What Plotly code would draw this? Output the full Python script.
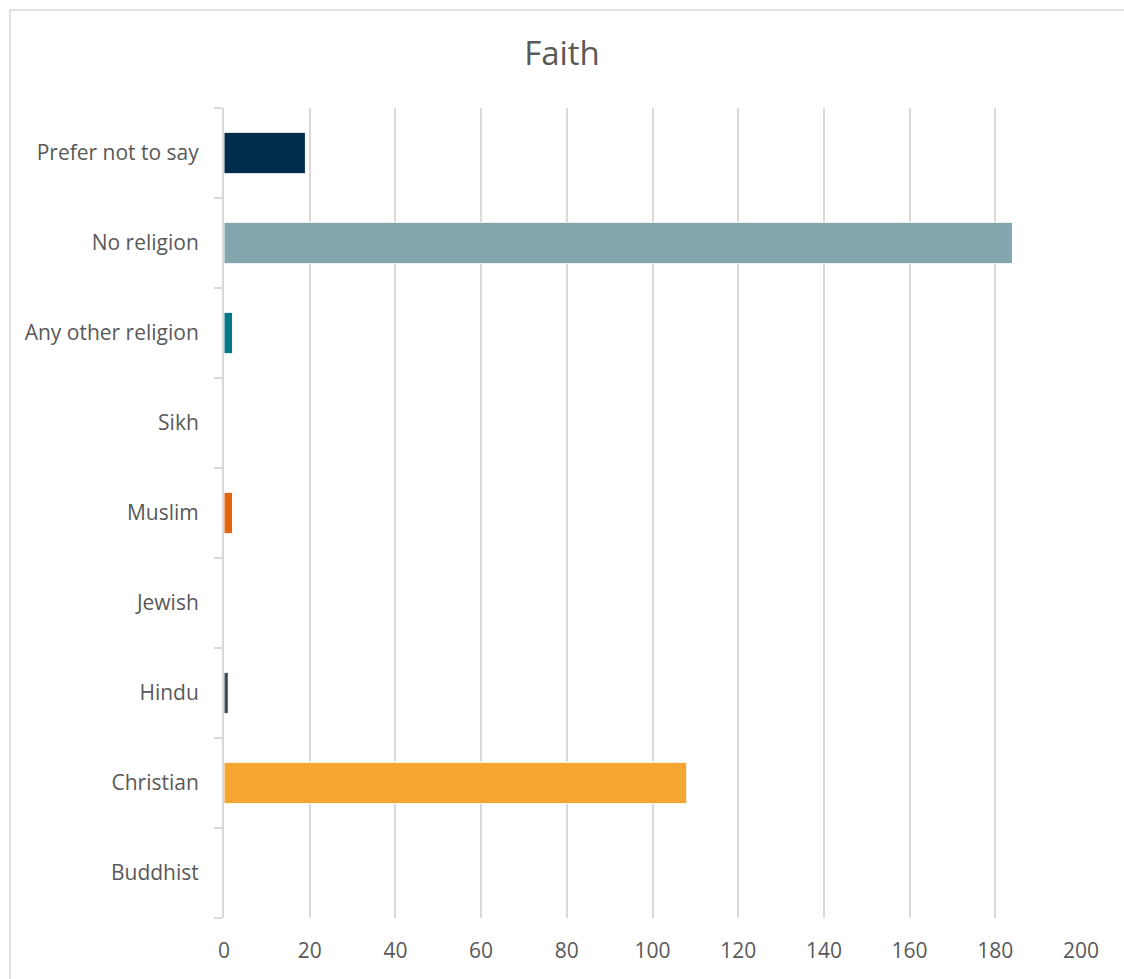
import plotly.graph_objects as go

# Respondent counts by faith (bottom to top as drawn)
categories = ["Buddhist", "Christian", "Hindu", "Jewish", "Muslim",
              "Sikh", "Any other religion", "No religion", "Prefer not to say"]
counts = [0, 108, 1, 0, 2, 0, 2, 184, 19]
bar_colors = ["#A3D8E0", "#F4A532", "#3C4A52", "#7F7F7F", "#E2660F",
              "#5B9BD5", "#05788A", "#83A5AD", "#012B4B"]
x_ticks = [0, 20, 40, 60, 80, 100, 120, 140, 160, 180, 200]

W, H = 1124, 979
L, R, T, B = 224, 43, 108, 61
pw, ph = W - L - R, H - T - B

fig = go.Figure(go.Bar(
    y=categories,
    x=counts,
    orientation="h",
    marker=dict(color=bar_colors, line=dict(color="white", width=1)),
    width=0.46,
    hoverinfo="x+y",
))

font_family = "'Open Sans', sans-serif"

fig.update_layout(
    width=W, height=H,
    margin=dict(l=L, r=R, t=T, b=B),
    paper_bgcolor="white",
    plot_bgcolor="white",
    showlegend=False,
    title=dict(text="Faith", x=0.5, xref="container", xanchor="center",
               y=1 - 53 / H, yanchor="middle",
               font=dict(family=font_family, size=33, color="#595959")),
    font=dict(family=font_family, size=21, color="#595959"),
    xaxis=dict(
        range=[0, 200],
        tickvals=x_ticks,
        showgrid=True, gridcolor="#D9D9D9", gridwidth=2,
        zeroline=False, showline=False, ticks="",
        tickfont=dict(size=21, color="#595959"),
        ticklabelstandoff=18,
    ),
    yaxis=dict(
        categoryorder="array", categoryarray=categories,
        showline=True, linecolor="#D9D9D9", linewidth=2,
        ticks="outside", tickson="boundaries", ticklen=8,
        tickcolor="#D9D9D9", tickwidth=2,
        showgrid=False,
        tickfont=dict(size=21, color="#595959"),
        ticklabelstandoff=19,
    ),
    shapes=[dict(
        type="rect", xref="paper", yref="paper",
        x0=(10 - L) / pw, x1=(W + 5 - L) / pw,
        y0=-(H + 5 - T - ph) / ph, y1=(H - 10 - B) / ph,
        line=dict(color="#D9D9D9", width=1.5), fillcolor="rgba(0,0,0,0)",
        layer="below",
    )],
)

fig.write_html("out.html")
